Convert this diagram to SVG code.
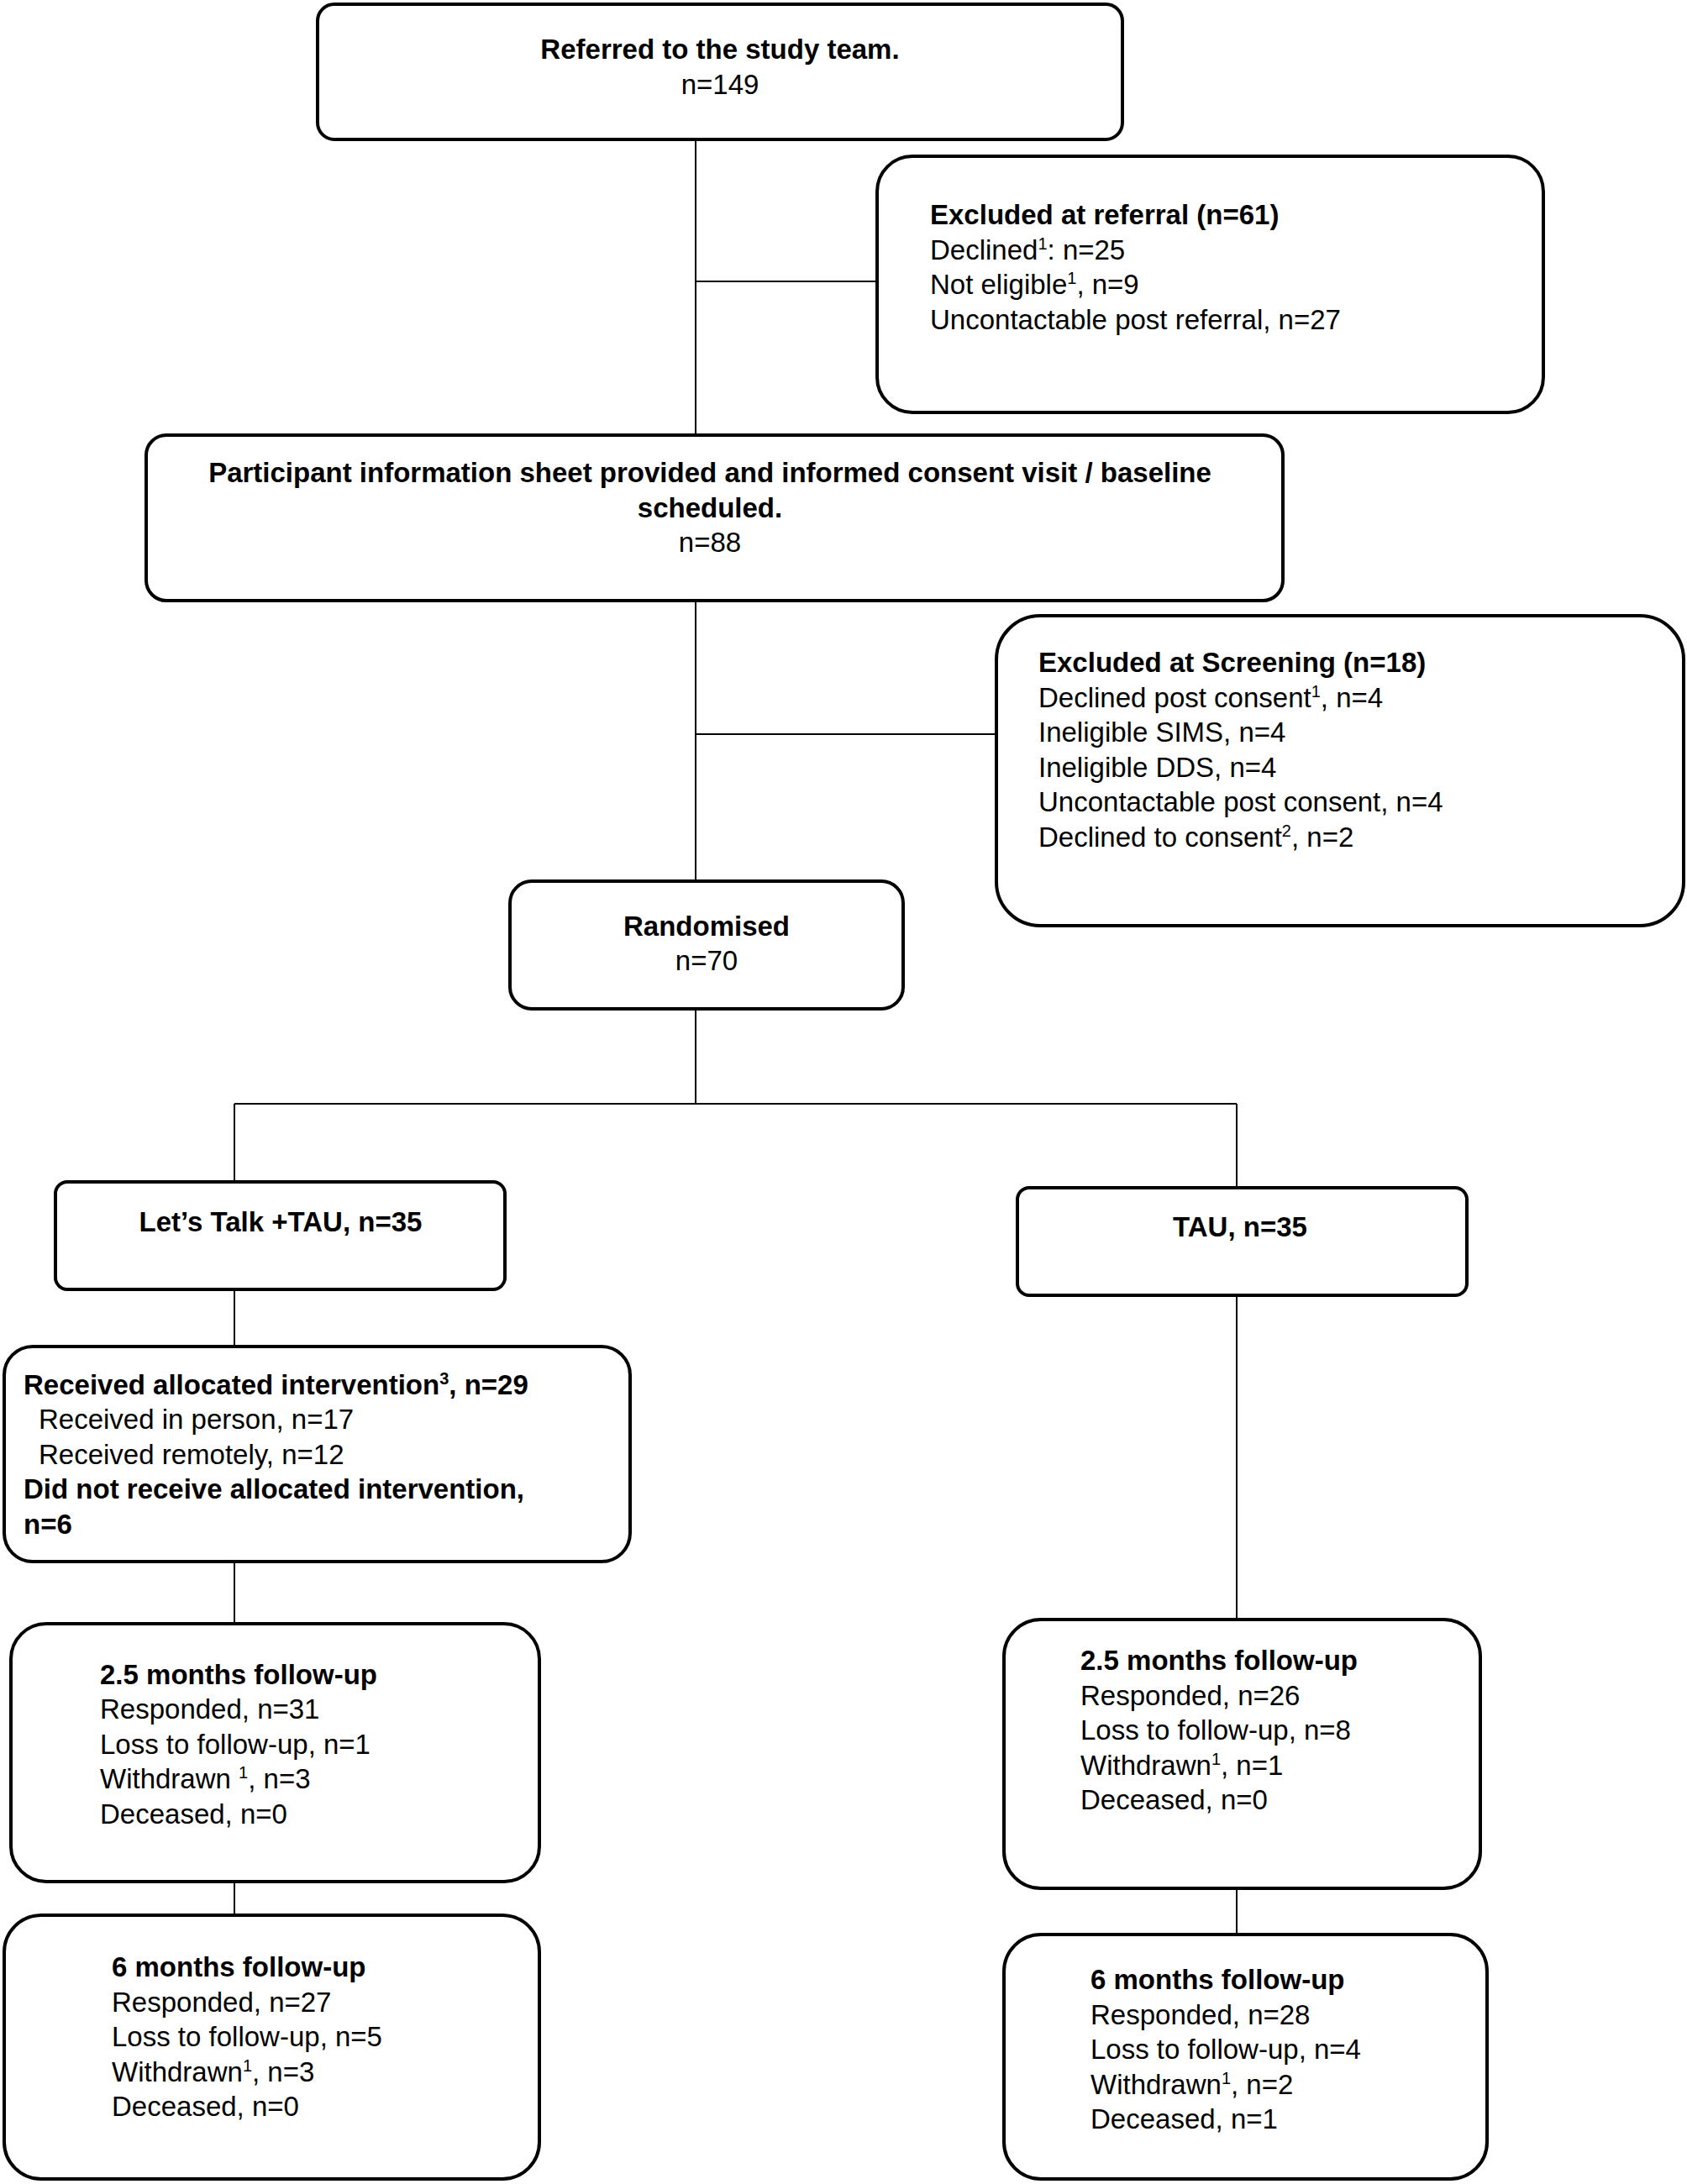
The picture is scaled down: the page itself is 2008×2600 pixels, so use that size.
<svg xmlns="http://www.w3.org/2000/svg" width="2008" height="2600" viewBox="0 0 2008 2600">
<style>
.box{fill:#fff;stroke:#000;stroke-width:4}
.con{stroke:#000;stroke-width:2;fill:none}
text{font-family:"Liberation Sans",Arial,sans-serif;font-size:33px;fill:#000}
.b{font-weight:bold}
.c{text-anchor:middle}
.sup{font-size:20px}
</style>
<rect width="2008" height="2600" fill="#fff"/>
<g id="connectors">
<line class="con" x1="828" y1="166" x2="828" y2="518"/>
<line class="con" x1="828" y1="335" x2="1044" y2="335"/>
<line class="con" x1="828" y1="715" x2="828" y2="1049"/>
<line class="con" x1="828" y1="874" x2="1186" y2="874"/>
<line class="con" x1="828" y1="1201" x2="828" y2="1314"/>
<line class="con" x1="279" y1="1314" x2="1472" y2="1314"/>
<line class="con" x1="279" y1="1314" x2="279" y2="1407"/>
<line class="con" x1="1472" y1="1314" x2="1472" y2="1414"/>
<line class="con" x1="279" y1="1535" x2="279" y2="1603"/>
<line class="con" x1="279" y1="1859" x2="279" y2="1933"/>
<line class="con" x1="279" y1="2240" x2="279" y2="2280"/>
<line class="con" x1="1472" y1="1542" x2="1472" y2="1928"/>
<line class="con" x1="1472" y1="2248" x2="1472" y2="2303"/>
</g>
<g id="referred">
<rect class="box" x="378" y="5" width="958" height="161" rx="20"/>
<text class="b c" x="857" y="70">Referred to the study team.</text>
<text class="c" x="857" y="112">n=149</text>
</g>
<g id="excluded-referral">
<rect class="box" x="1044" y="186" width="793" height="305" rx="42"/>
<text class="b" x="1107" y="267">Excluded at referral (n=61)</text>
<text x="1107" y="309">Declined<tspan class="sup" dy="-12">1</tspan><tspan dy="12">: n=25</tspan></text>
<text x="1107" y="350">Not eligible<tspan class="sup" dy="-12">1</tspan><tspan dy="12">, n=9</tspan></text>
<text x="1107" y="392">Uncontactable post referral, n=27</text>
</g>
<g id="pis">
<rect class="box" x="174" y="518" width="1353" height="197" rx="24"/>
<text class="b c" x="845" y="574">Participant information sheet provided and informed consent visit / baseline</text>
<text class="b c" x="845" y="616">scheduled.</text>
<text class="c" x="845" y="657">n=88</text>
</g>
<g id="excluded-screening">
<rect class="box" x="1186" y="733" width="818" height="369" rx="52"/>
<text class="b" x="1236" y="800">Excluded at Screening (n=18)</text>
<text x="1236" y="842">Declined post consent<tspan class="sup" dy="-12">1</tspan><tspan dy="12">, n=4</tspan></text>
<text x="1236" y="883">Ineligible SIMS, n=4</text>
<text x="1236" y="925">Ineligible DDS, n=4</text>
<text x="1236" y="966">Uncontactable post consent, n=4</text>
<text x="1236" y="1008">Declined to consent<tspan class="sup" dy="-12">2</tspan><tspan dy="12">, n=2</tspan></text>
</g>
<g id="randomised">
<rect class="box" x="607" y="1049" width="468" height="152" rx="26"/>
<text class="b c" x="841" y="1114">Randomised</text>
<text class="c" x="841" y="1155">n=70</text>
</g>
<g id="letstalk">
<rect class="box" x="66" y="1407" width="535" height="128" rx="14"/>
<text class="b c" x="334" y="1466">Let’s Talk +TAU, n=35</text>
</g>
<g id="tau">
<rect class="box" x="1211" y="1414" width="535" height="128" rx="14"/>
<text class="b c" x="1476" y="1472">TAU, n=35</text>
</g>
<g id="received">
<rect class="box" x="5" y="1603" width="745" height="256" rx="34"/>
<text class="b" x="28" y="1660">Received allocated intervention<tspan class="sup" dy="-12">3</tspan><tspan dy="12">, n=29</tspan></text>
<text x="46" y="1701">Received in person, n=17</text>
<text x="46" y="1743">Received remotely, n=12</text>
<text class="b" x="28" y="1784">Did not receive allocated intervention,</text>
<text class="b" x="28" y="1826">n=6</text>
</g>
<g id="fu25-left">
<rect class="box" x="13" y="1933" width="629" height="307" rx="42"/>
<text class="b" x="119" y="2005">2.5 months follow-up</text>
<text x="119" y="2046">Responded, n=31</text>
<text x="119" y="2088">Loss to follow-up, n=1</text>
<text x="119" y="2129">Withdrawn <tspan class="sup" dy="-12">1</tspan><tspan dy="12">, n=3</tspan></text>
<text x="119" y="2171">Deceased, n=0</text>
</g>
<g id="fu6-left">
<rect class="box" x="5" y="2280" width="637" height="314" rx="44"/>
<text class="b" x="133" y="2353">6 months follow-up</text>
<text x="133" y="2395">Responded, n=27</text>
<text x="133" y="2436">Loss to follow-up, n=5</text>
<text x="133" y="2478">Withdrawn<tspan class="sup" dy="-12">1</tspan><tspan dy="12">, n=3</tspan></text>
<text x="133" y="2519">Deceased, n=0</text>
</g>
<g id="fu25-right">
<rect class="box" x="1195" y="1928" width="567" height="320" rx="44"/>
<text class="b" x="1286" y="1988">2.5 months follow-up</text>
<text x="1286" y="2030">Responded, n=26</text>
<text x="1286" y="2071">Loss to follow-up, n=8</text>
<text x="1286" y="2113">Withdrawn<tspan class="sup" dy="-12">1</tspan><tspan dy="12">, n=1</tspan></text>
<text x="1286" y="2154">Deceased, n=0</text>
</g>
<g id="fu6-right">
<rect class="box" x="1195" y="2303" width="575" height="291" rx="44"/>
<text class="b" x="1298" y="2368">6 months follow-up</text>
<text x="1298" y="2410">Responded, n=28</text>
<text x="1298" y="2451">Loss to follow-up, n=4</text>
<text x="1298" y="2493">Withdrawn<tspan class="sup" dy="-12">1</tspan><tspan dy="12">, n=2</tspan></text>
<text x="1298" y="2534">Deceased, n=1</text>
</g>
</svg>
